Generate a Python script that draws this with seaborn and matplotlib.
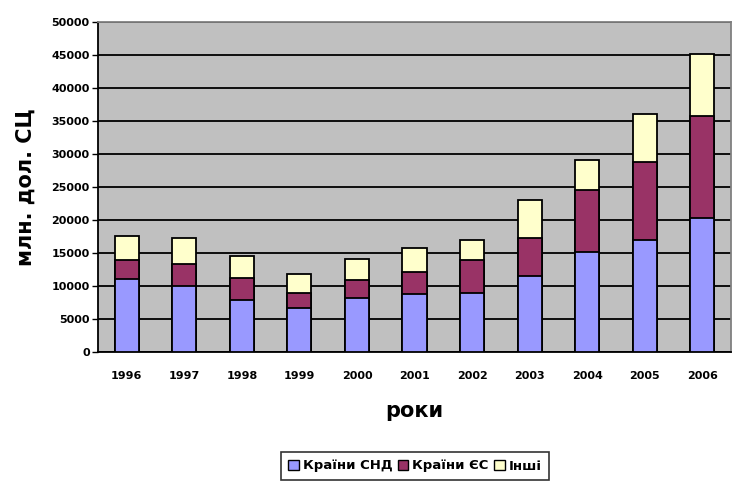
import matplotlib
matplotlib.use("Agg")
import matplotlib.pyplot as plt
import seaborn as sns
import pandas as pd
import numpy as np
from matplotlib.patches import Patch

years = ["1996", "1997", "1998", "1999", "2000", "2001", "2002", "2003", "2004", "2005", "2006"]
cis = [11100, 9950, 7850, 6600, 8200, 8800, 9000, 11500, 15100, 16950, 20250]
eu = [2800, 3350, 3300, 2400, 2700, 3300, 4900, 5700, 9450, 11800, 15550]
other = [3650, 3900, 3400, 2800, 3150, 3700, 3050, 5800, 4550, 7300, 9400]
labels = ["Країни СНД", "Країни ЄС", "Інші"]
colors = ["#9999FF", "#993366", "#FFFFCC"]
yticks = list(range(0, 50001, 5000))

sns.set_style("white")
plt.rcParams["font.family"] = ["DejaVu Sans"]
plt.rcParams["text.color"] = "black"
plt.rcParams["axes.labelcolor"] = "black"
plt.rcParams["xtick.color"] = "black"
plt.rcParams["ytick.color"] = "black"

df = pd.DataFrame({"year": years, "cis": cis, "eu": eu, "other": other})
df["lvl1"] = df["cis"]
df["lvl2"] = df["cis"] + df["eu"]
df["lvl3"] = df["lvl2"] + df["other"]

fig = plt.figure(figsize=(7.37, 4.82), dpi=100)
ax = fig.add_axes([98 / 737, 130 / 482, 633 / 737, 330 / 482])
ax.set_facecolor("#C0C0C0")

for col, c in zip(["lvl3", "lvl2", "lvl1"], colors[::-1]):
    sns.barplot(data=df, x="year", y=col, order=years, color=c, width=0.42,
                edgecolor="black", linewidth=1.3, saturation=1, ax=ax, zorder=3)

ax.set_xlim(-0.5, len(years) - 0.5)
ax.set_ylim(0, 50000)
ax.set_yticks(yticks)
ax.set_yticklabels([str(v) for v in yticks], fontsize=8, fontweight="bold")
ax.set_xticks(range(len(years)))
ax.set_xticklabels(years, fontsize=8, fontweight="bold")
ax.set_xticks(np.arange(-0.5, len(years)), minor=True)
ax.tick_params(axis="x", which="major", length=0, pad=14)
ax.tick_params(axis="x", which="minor", length=4, width=1, color="black", direction="out")
ax.tick_params(axis="y", length=4, width=1, color="black", direction="out", pad=2, left=True)
ax.yaxis.grid(True, color="black", linewidth=1.3, zorder=1)
ax.set_axisbelow(True)
for s in ["top", "right"]:
    ax.spines[s].set_color("#808080")
    ax.spines[s].set_linewidth(1.3)
for s in ["bottom", "left"]:
    ax.spines[s].set_color("black")
    ax.spines[s].set_linewidth(1.3)

ax.set_xlabel("роки", fontsize=15, fontweight="bold", labelpad=14)
ax.set_ylabel("млн. дол. СЦ", fontsize=15, fontweight="bold", labelpad=11)

handles = [Patch(facecolor=c, edgecolor="black", linewidth=1) for c in colors]
leg = fig.legend(handles, labels, loc="center", bbox_to_anchor=(415 / 737, 1 - 466 / 482),
                 ncol=3, frameon=True, fancybox=False, edgecolor="black",
                 prop={"weight": "bold", "size": 9.5}, handlelength=0.8, handleheight=0.8,
                 handletextpad=0.3, columnspacing=0.4, borderpad=0.6, borderaxespad=0)
leg.get_frame().set_linewidth(1.2)

fig.savefig("out.png", dpi=100)
